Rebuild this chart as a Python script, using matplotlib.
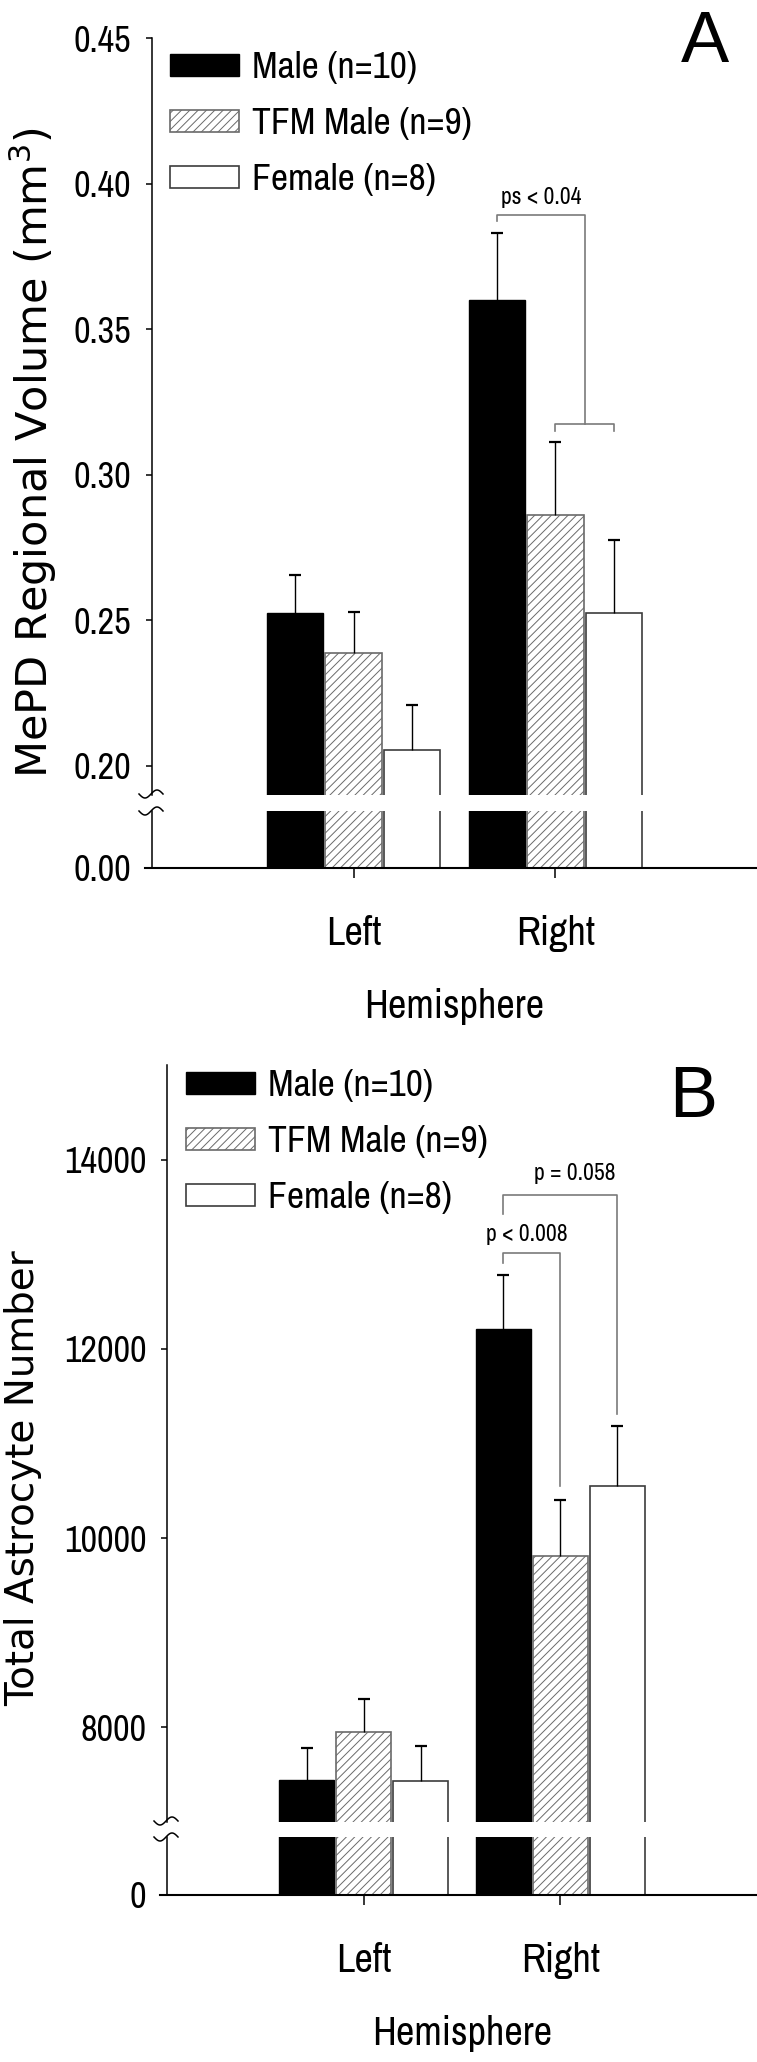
import numpy as np
import matplotlib
matplotlib.use("Agg")
import matplotlib.pyplot as plt
from matplotlib.lines import Line2D

# data
hemispheres = ["Left", "Right"]
group_labels = ["Male (n=10)", "TFM Male (n=9)", "Female (n=8)"]

# A: MePD regional volume (mm3), mean and SEM (Left, Right)
vol_male = [0.2525, 0.360]
vol_male_sem = [0.013, 0.023]
vol_tfm = [0.2386, 0.2863]
vol_tfm_sem = [0.0142, 0.025]
vol_female = [0.2055, 0.2525]
vol_female_sem = [0.0154, 0.025]

# B: total astrocyte number, mean and SEM (Left, Right)
astro_male = [7447, 12213]
astro_male_sem = [336, 572]
astro_tfm = [7947, 9815]
astro_tfm_sem = [351, 590]
astro_female = [7433, 10548]
astro_female_sem = [367, 633]

# axis ticks
vol_ticks = [0.20, 0.25, 0.30, 0.35, 0.40, 0.45]
astro_ticks = [8000, 10000, 12000, 14000]

NARROW = ["Archivo Narrow", "Liberation Sans"]
WIDE = ["DejaVu Sans"]
TICK_FS = 26
LEG_FS = 27
X_FS = 29

plt.rcParams["hatch.linewidth"] = 0.7

W, H = 757, 2062
fig = plt.figure(figsize=(W / 100, H / 100), dpi=100)


def fx(px):
    return np.asarray(px) / W


def fy(py):
    return 1 - np.asarray(py) / H


group_x = np.arange(1, len(hemispheres) + 1)
offsets = [-0.29, 0.0, 0.29]
bar_w = 0.28
styles = [
    dict(color="black", edgecolor="black", linewidth=1.0),
    dict(color="white", edgecolor="#6a6a6a", hatch="////", linewidth=1.2),
    dict(color="white", edgecolor="#3c3c3c", linewidth=1.2),
]


def squiggle(x_px, y_px):
    t = np.linspace(-1, 1, 40)
    fig.add_artist(Line2D(fx(x_px + 12 * t), fy(y_px - 4 * np.sin(np.pi * t)),
                          color="black", lw=1.1))


def make_panel(left, top, brk_hi, brk_lo, zero, ylim, low_ylim, ticks, fmt, zero_label):
    width = (W - left) / W
    ax = fig.add_axes([fx(left), fy(brk_hi), width, (brk_hi - top) / H])
    low = fig.add_axes([fx(left), fy(zero), width, (zero - brk_lo) / H])
    for a in (ax, low):
        a.set_xlim(0, 3)
        a.spines["right"].set_visible(False)
        a.spines["top"].set_visible(False)
        a.spines["left"].set_linewidth(1.1)
        a.tick_params(axis="y", direction="out", length=4.3, width=1.1, pad=10.5)
    ax.spines["bottom"].set_visible(False)
    ax.set_xticks([])
    ax.set_ylim(*ylim)
    ax.set_yticks(ticks, labels=[fmt.format(t) for t in ticks], fontsize=TICK_FS, family=NARROW)
    low.set_ylim(*low_ylim)
    low.set_yticks([0], labels=[zero_label], fontsize=TICK_FS, family=NARROW)
    low.spines["bottom"].set_linewidth(1.5)
    low.spines["bottom"].set_bounds(-0.035, 3)
    low.set_xticks(group_x, labels=hemispheres, fontsize=X_FS, family=NARROW)
    low.tick_params(axis="x", direction="out", length=7, width=1.1, pad=27)
    low.set_xlabel("Hemisphere", fontsize=X_FS, family=NARROW)
    low.xaxis.set_label_coords(0.5, -150 / (zero - brk_lo))
    low.xaxis.label.set_va("baseline")
    squiggle(left - 1, brk_hi - 1)
    squiggle(left - 1, brk_lo)
    return ax, low


def draw_bars(ax, low, means, sems):
    handles = []
    for i, (m, s) in enumerate(zip(means, sems)):
        xs = group_x + offsets[i]
        for a in (ax, low):
            b = a.bar(xs, m, bar_w, **styles[i])
        handles.append(b)
        eb = ax.errorbar(xs, m, yerr=[np.zeros(len(m)), s], fmt="none", ecolor="black",
                         elinewidth=1.0, capsize=4.3, capthick=1.6)
        # keep only the upper caps
        for cap in eb[1]:
            if np.allclose(cap.get_ydata(), m):
                cap.set_visible(False)
    return handles


def bracket(ax, xs, ys):
    ax.plot(xs, ys, color="#7a7a7a", lw=1.2, clip_on=False)


leg_kw = dict(loc="upper left", bbox_transform=fig.transFigure, frameon=False,
              prop={"family": NARROW, "size": LEG_FS}, handlelength=1.84, handleheight=0.51,
              handletextpad=0.35, labelspacing=0.62, borderpad=0, borderaxespad=0)

# ---------------- Panel A ----------------
axA, lowA = make_panel(152, 38, 795, 811, 868, (0.19, 0.45), (0, 0.02),
                       vol_ticks, "{:.2f}", "0.00")
hA = draw_bars(axA, lowA, [vol_male, vol_tfm, vol_female],
               [vol_male_sem, vol_tfm_sem, vol_female_sem])
axA.legend(hA, group_labels, bbox_to_anchor=(fx(170), fy(51)), **leg_kw)
axA.set_ylabel(r"MePD Regional Volume (mm$^3$)", fontsize=31, family=WIDE)
axA.yaxis.set_label_coords((48 - 152) / (W - 152), (795 - 453) / (795 - 38))
axA.yaxis.label.set_va("baseline")
# significance brackets
bracket(axA, [1.71, 1.71, 2.145, 2.145], [0.387, 0.3893, 0.3893, 0.3173])
bracket(axA, [2.0, 2.0, 2.29, 2.29], [0.315, 0.3173, 0.3173, 0.315])
axA.text(1.93, 0.3915, "ps < 0.04", ha="center", va="bottom", fontsize=17, family=NARROW)
fig.text(fx(705), fy(62), "A", ha="center", va="baseline", fontsize=52,
         family=["Liberation Sans", "DejaVu Sans"])

# ---------------- Panel B ----------------
axB, lowB = make_panel(167, 1065, 1822, 1837, 1895, (7000, 15000), (0, 500),
                       astro_ticks, "{:d}", "0")
hB = draw_bars(axB, lowB, [astro_male, astro_tfm, astro_female],
               [astro_male_sem, astro_tfm_sem, astro_female_sem])
axB.legend(hB, group_labels, bbox_to_anchor=(fx(186), fy(1069)), **leg_kw)
axB.set_ylabel("Total Astrocyte Number", fontsize=28, family=WIDE)
axB.yaxis.set_label_coords((34 - 167) / (W - 167), (1822 - 1478) / (1822 - 1065))
axB.yaxis.label.set_va("baseline")
bracket(axB, [1.71, 1.71, 2.0, 2.0], [12910, 13009, 13009, 10555])
bracket(axB, [1.71, 1.71, 2.29, 2.29], [13425, 13629, 13629, 11310])
axB.text(1.83, 13212, "p < 0.008", ha="center", va="center", fontsize=17, family=NARROW)
axB.text(2.074, 13857, "p = 0.058", ha="center", va="center", fontsize=17, family=NARROW)
fig.text(fx(693), fy(1117), "B", ha="center", va="baseline", fontsize=52,
         family=["Liberation Sans", "DejaVu Sans"])

fig.savefig("out.png", dpi=100)
